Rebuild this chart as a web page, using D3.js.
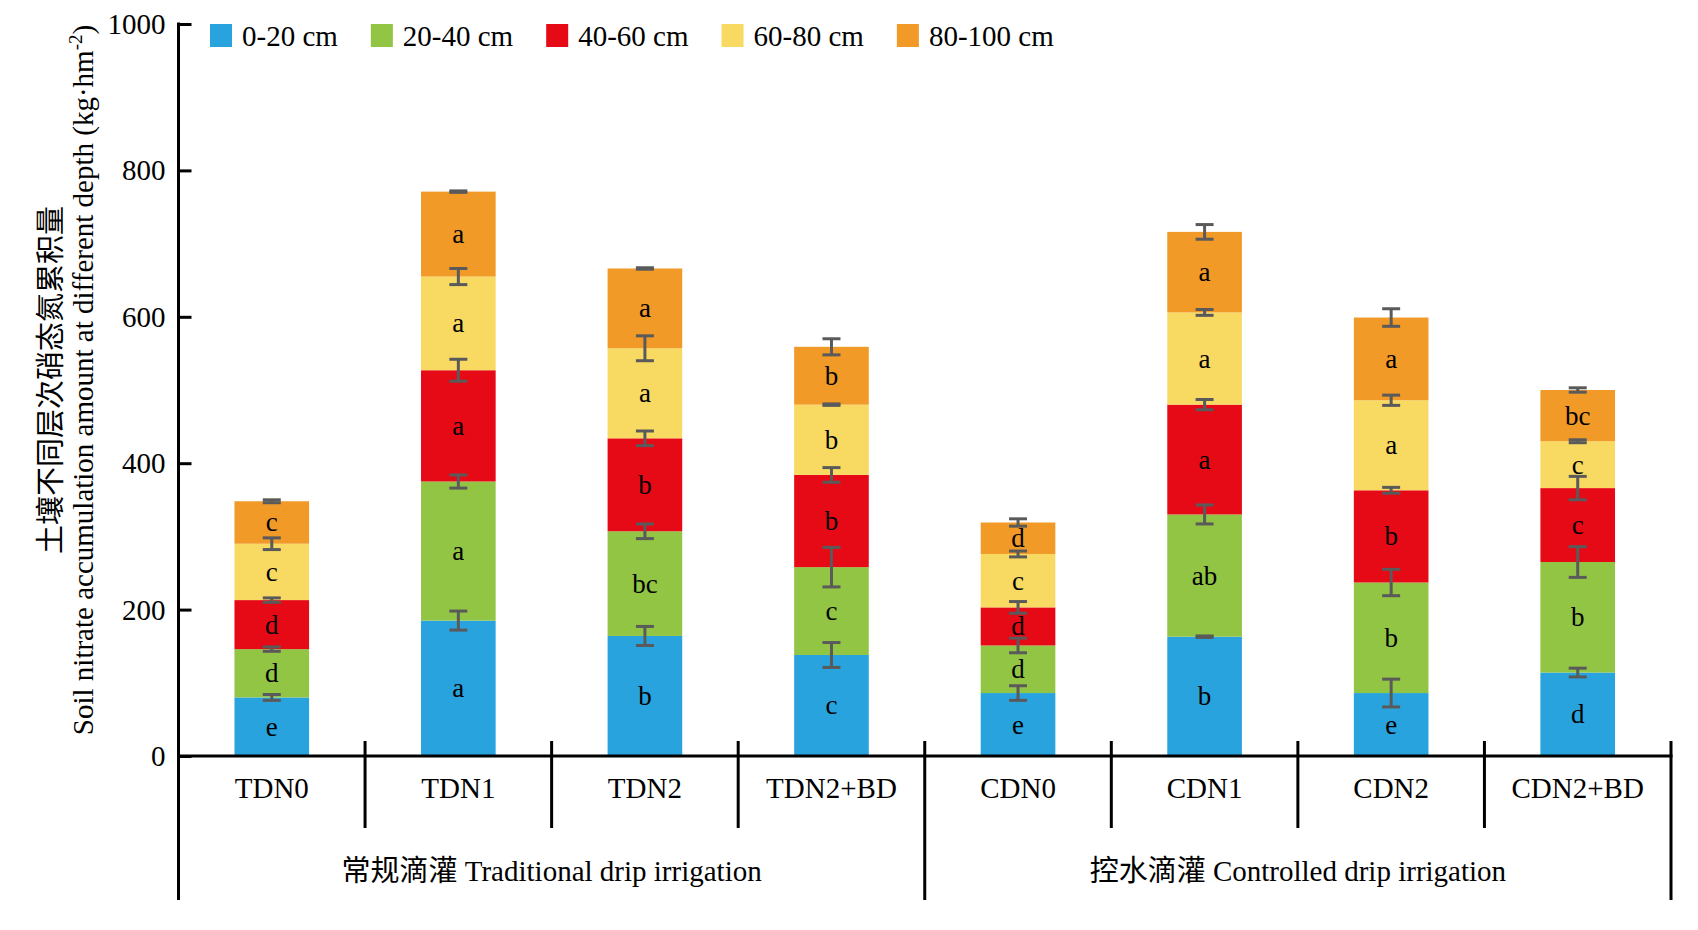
<!DOCTYPE html>
<html><head><meta charset="utf-8">
<script src="https://cdn.jsdelivr.net/npm/d3@7"></script>
<style>
html,body{margin:0;padding:0;background:#fff;}
svg{display:block;}
text{font-family:"Liberation Serif","Times New Roman","Noto Sans CJK SC",serif;fill:#000;}
</style></head>
<body>
<svg id="chart" width="1698" height="930"></svg>
<script>
const categories = ["TDN0","TDN1","TDN2","TDN2+BD","CDN0","CDN1","CDN2","CDN2+BD"];
const groups = ["常规滴灌 Traditional drip irrigation","控水滴灌 Controlled drip irrigation"];
const depths = ["0-20 cm","20-40 cm","40-60 cm","60-80 cm","80-100 cm"];
const colors = ["#29A3DE","#92C544","#E60A17","#F8DA62","#F19A27"];

const d0_20   = [80, 185, 164, 138, 86, 163, 86, 114];
const d20_40  = [66, 190, 143, 120, 65, 167, 151, 151];
const d40_60  = [67, 152, 127, 126, 52, 150, 126, 101];
const d60_80  = [77, 128, 123, 96, 73, 126, 123, 64];
const d80_100 = [58, 116, 109, 79, 43, 110, 113, 70];

const e0_20   = [4, 13, 13, 17, 10, 1, 19, 6];
const e20_40  = [3, 9, 10, 27, 10, 13, 18, 21];
const e40_60  = [3, 15, 10, 10, 8, 7, 4, 16];
const e60_80  = [8, 11, 17, 1, 4, 4, 7, 2];
const e80_100 = [2, 1, 1, 11, 5, 10, 12, 3];

const l0_20   = ["e","a","b","c","e","b","e","d"];
const l20_40  = ["d","a","bc","c","d","ab","b","b"];
const l40_60  = ["d","a","b","b","d","a","b","c"];
const l60_80  = ["c","a","a","b","c","a","a","c"];
const l80_100 = ["c","a","a","b","d","a","a","bc"];

const yTicks = [0,200,400,600,800,1000];

const layers = [d0_20,d20_40,d40_60,d60_80,d80_100];
const errs = [e0_20,e20_40,e40_60,e60_80,e80_100];
const lets = [l0_20,l20_40,l40_60,l60_80,l80_100];

const FONT = '"Liberation Serif","Times New Roman","Noto Sans CJK SC",serif';
const svg = d3.select("#chart");
const x0 = 178.5, x1 = 1671, yBase = 756, yTop = 24;
const x = d3.scaleBand().domain(categories).range([x0,x1]).paddingInner(0).paddingOuter(0);
const y = d3.scaleLinear().domain([0,1000]).range([yBase,yTop]);
const barW = x.bandwidth()*0.4;

const rows = categories.map((c,i)=>{const o={cat:c}; depths.forEach((d,k)=>o[d]=layers[k][i]); return o;});
const stacked = d3.stack().keys(depths)(rows);

const g = svg.append("g");
stacked.forEach((s,k)=>{
  g.selectAll(null).data(s).enter().append("rect")
    .attr("x",d=>x(d.data.cat)+x.bandwidth()/2-barW/2)
    .attr("width",barW)
    .attr("y",d=>y(d[1]))
    .attr("height",d=>y(d[0])-y(d[1]))
    .attr("fill",colors[k]);
});
stacked.forEach((s,k)=>{
  g.selectAll(null).data(s).enter().append("text")
    .attr("x",d=>x(d.data.cat)+x.bandwidth()/2)
    .attr("y",(d)=>(y(d[0])+y(d[1]))/2)
    .attr("text-anchor","middle").attr("dominant-baseline","central")
    .style("font-size","27px")
    .text((d,i)=>lets[k][i]);
});
const capW = 9;
stacked.forEach((s,k)=>{
  s.forEach((d,i)=>{
    const cx = x(d.data.cat)+x.bandwidth()/2;
    const e = errs[k][i];
    const ya = y(d[1]+e), yb = y(d[1]-e);
    const eg = g.append("g").attr("stroke","#5a5a5a").attr("stroke-width",3);
    eg.append("line").attr("x1",cx).attr("x2",cx).attr("y1",ya).attr("y2",yb);
    eg.append("line").attr("x1",cx-capW).attr("x2",cx+capW).attr("y1",ya).attr("y2",ya);
    eg.append("line").attr("x1",cx-capW).attr("x2",cx+capW).attr("y1",yb).attr("y2",yb);
  });
});

// y axis
const yAxis = d3.axisLeft(y).tickValues(yTicks).tickFormat(d3.format("d")).tickSize(-13).tickPadding(13);
const ya = svg.append("g").attr("transform",`translate(${x0},0)`).call(yAxis).attr("font-family",FONT);
ya.select(".domain").remove();
ya.selectAll(".tick line").attr("stroke","#000").attr("stroke-width",3);
ya.selectAll(".tick text").style("font-size","29px").style("font-family",FONT).attr("dy","0.33em");
svg.append("line").attr("x1",x0).attr("x2",x0).attr("y1",yTop-1.5).attr("y2",900).attr("stroke","#000").attr("stroke-width",3);

// x axis
const xAxis = d3.axisBottom(x).tickSize(0).tickPadding(21);
const xa = svg.append("g").attr("transform",`translate(0,${yBase})`).call(xAxis).attr("font-family",FONT);
xa.select(".domain").remove();
xa.selectAll(".tick text").style("font-size","29px").style("font-family",FONT);
svg.append("line").attr("x1",x0).attr("x2",x1+1.5).attr("y1",yBase).attr("y2",yBase).attr("stroke","#000").attr("stroke-width",3);
const divs = d3.range(1,9);
svg.selectAll(null).data(divs).enter().append("line")
  .attr("x1",i=>x0+i*x.step()).attr("x2",i=>x0+i*x.step())
  .attr("y1",741).attr("y2",i=>(i===4||i===8)?900:828)
  .attr("stroke","#000").attr("stroke-width",3);
const gScale = d3.scaleBand().domain(groups).range([x0,x1]);
svg.selectAll(null).data(groups).enter().append("text")
  .attr("x",d=>gScale(d)+gScale.bandwidth()/2)
  .attr("y",881).attr("text-anchor","middle")
  .style("font-size","29px").text(d=>d);

// y title
const yt = svg.append("g").attr("transform","translate(0,380)");
yt.append("text").attr("transform","translate(61,0) rotate(-90)").attr("text-anchor","middle")
  .style("font-size","29px").text("土壤不同层次硝态氮累积量");
const t2 = yt.append("text").attr("transform","translate(93,0) rotate(-90)").attr("text-anchor","middle")
  .style("font-size","29px");
t2.append("tspan").text("Soil nitrate accumulation amount at different depth (kg·hm");
t2.append("tspan").attr("dy","-11").style("font-size","19px").text("-2");
t2.append("tspan").attr("dy","11").text(")");

// legend
let lx = 210;
depths.forEach((d,k)=>{
  svg.append("rect").attr("x",lx).attr("y",24).attr("width",22).attr("height",23).attr("fill",colors[k]);
  const t = svg.append("text").attr("x",lx+32).attr("y",46).style("font-size","29px").text(d);
  const w = t.node().getComputedTextLength();
  lx = lx+32+w+33;
});
</script>
</body></html>
